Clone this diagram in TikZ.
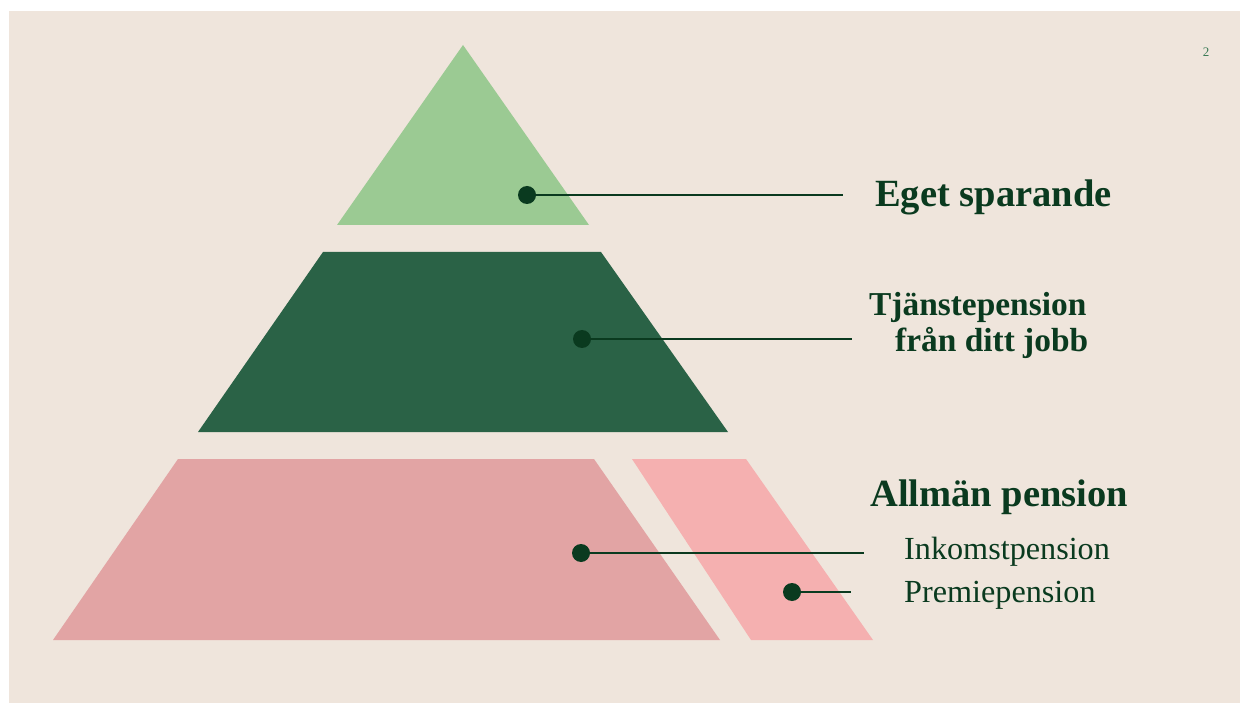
\documentclass[tikz,border=0pt]{standalone}
\usepackage{fontspec}
\setmainfont{Liberation Serif}
\definecolor{bg}{HTML}{EFE5DC}
\definecolor{lightgreen}{HTML}{9BCA93}
\definecolor{darkgreen}{HTML}{2A6246}
\definecolor{dustypink}{HTML}{E2A4A4}
\definecolor{lightpink}{HTML}{F5B0B0}
\definecolor{ink}{HTML}{0A3A1F}
\definecolor{pagenum}{HTML}{3A7A55}
\begin{document}
\begin{tikzpicture}[x=1pt,y=-1pt,
  dot/.style={circle,fill=ink,inner sep=0pt,minimum size=18pt},
  conn/.style={draw=ink,line width=2.2pt},
  head/.style={anchor=base west,inner sep=0pt,text=ink,font=\bfseries\fontsize{38.5}{40}\selectfont},
  subhead/.style={anchor=base west,inner sep=0pt,text=ink,font=\bfseries\fontsize{33.4}{36}\selectfont},
  item/.style={anchor=base west,inner sep=0pt,text=ink,font=\fontsize{32.2}{34}\selectfont}]
\useasboundingbox (0,0) rectangle (1240,703);
\fill[white] (0,0) rectangle (1240,703);
\fill[bg] (9,11) rectangle (1240,703);
% pyramid
\fill[lightgreen] (463,45) -- (589,225) -- (337,225) -- cycle;
\fill[darkgreen] (323,252) -- (601,252) -- (728,432) -- (198,432) -- cycle;
\fill[dustypink] (178,459) -- (594,459) -- (720,640) -- (53,640) -- cycle;
\fill[lightpink] (632,459) -- (746,459) -- (873,640) -- (751,640) -- cycle;
% connectors
\node[dot] (d1) at (527,195) {};
\coordinate (e1) at (843,195);
\draw[conn] (d1) -- (e1);
\node[dot] (d2) at (582,339) {};
\coordinate (e2) at (852,339);
\draw[conn] (d2) -- (e2);
\node[dot] (d3) at (581,553) {};
\coordinate (e3) at (864,553);
\draw[conn] (d3) -- (e3);
\node[dot] (d4) at (792,592) {};
\coordinate (e4) at (851,592);
\draw[conn] (d4) -- (e4);
% labels
\node[head] (t1) at (875,207) {Eget sparande};
\node[subhead] (t2a) at (869,316) {Tjänstepension};
\node[subhead] (t2b) at (895,352) {från ditt jobb};
\node[head] (t3) at (870,506) {Allmän pension};
\node[item] (t4) at (904,559) {Inkomstpension};
\node[item] (t5) at (904,602) {Premiepension};
\node[anchor=base,inner sep=0pt,text=pagenum,font=\fontsize{13}{15}\selectfont] (pg) at (1206,57) {2};
\end{tikzpicture}
\end{document}
